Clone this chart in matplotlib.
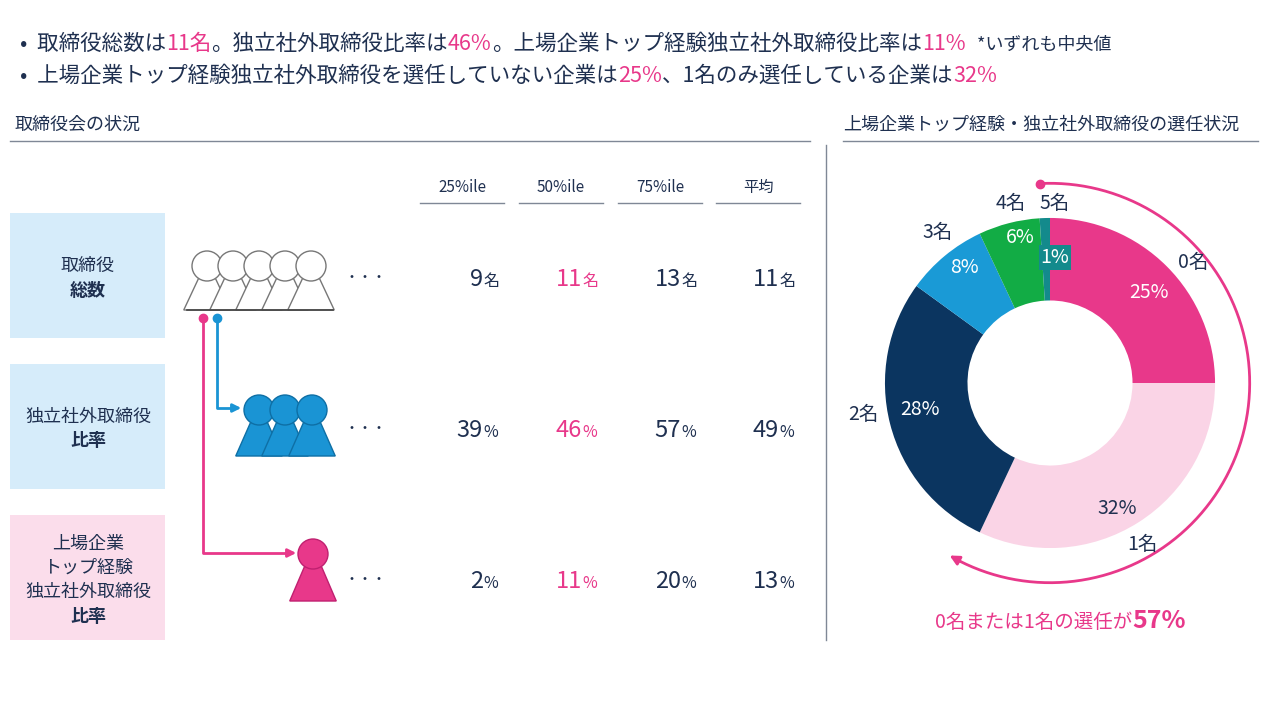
import numpy as np
import matplotlib.pyplot as plt
from matplotlib.patches import Rectangle, Circle, Polygon

plt.rcParams['font.family'] = 'Noto Sans CJK JP'

NAVY = '#1F3050'
PINK = '#E8388A'

# data
col_labels = ['25%ile', '50%ile', '75%ile', '平均']
row_labels = [('取締役', '総数'), ('独立社外取締役', '比率'), ('上場企業\nトップ経験\n独立社外取締役', '比率')]
row_values = [[9, 11, 13, 11], [39, 46, 57, 49], [2, 11, 20, 13]]
row_units = ['名', '%', '%']
donut_labels = ['0名', '1名', '2名', '3名', '4名', '5名']
donut_values = [25, 32, 28, 8, 6, 1]
donut_colors = ['#E8388A', '#FAD4E6', '#0B3560', '#1A9AD6', '#12AC45', '#138A8C']
donut_text_colors = ['white', NAVY, 'white', 'white', 'white', 'white']

fig = plt.figure(figsize=(12.8, 7.18), dpi=100)
ax = fig.add_axes([0, 0, 1, 1])
ax.set_xlim(0, 1280)
ax.set_ylim(718, 0)
ax.axis('off')
renderer = fig.canvas.get_renderer()


def rich(x, y, parts, size=15.5):
    for s, c, sz, wt in parts:
        t = ax.text(x, y, s, color=c, fontsize=sz or size, va='baseline', ha='left', fontweight=wt)
        x += t.get_window_extent(renderer).width


# headline bullets
rich(20, 50, [('•  取締役総数は', NAVY, 0, 'normal'), ('11名', PINK, 0, 'normal'),
              ('。独立社外取締役比率は', NAVY, 0, 'normal'), ('46%', PINK, 0, 'normal'),
              ('。上場企業トップ経験独立社外取締役比率は', NAVY, 0, 'normal'), ('11%', PINK, 0, 'normal'),
              ('   *いずれも中央値', NAVY, 13, 'normal')])
rich(20, 82, [('•  上場企業トップ経験独立社外取締役を選任していない企業は', NAVY, 0, 'normal'),
              ('25%', PINK, 0, 'normal'), ('、1名のみ選任している企業は', NAVY, 0, 'normal'),
              ('32%', PINK, 0, 'normal')])

# section headers
ax.text(15, 125, '取締役会の状況', fontsize=13, color=NAVY, va='center')
ax.plot([10, 810], [141, 141], color='#7F8896', lw=1)
ax.text(843, 125, '上場企業トップ経験・独立社外取締役の選任状況', fontsize=13, color=NAVY, va='center')
ax.plot([843, 1258], [141, 141], color='#7F8896', lw=1)
ax.plot([826, 826], [145, 640], color='#7F8896', lw=1)

# table
col_x = [462, 561, 660, 758]
for cx, lab in zip(col_x, col_labels):
    ax.text(cx, 187, lab, fontsize=11, color=NAVY, ha='center', va='center')
    ax.plot([cx - 42, cx + 42], [203, 203], color='#7F8896', lw=1)

row_y = [278, 429, 580]
box_colors = ['#D6ECFA', '#D6ECFA', '#FBDDEB']
for i, (y, (l1, l2)) in enumerate(zip(row_y, row_labels)):
    ax.add_patch(Rectangle((10, y - 65), 155, 125, color=box_colors[i], lw=0))
    lines = l1.split('\n')
    n = len(lines) + 1
    step = 24
    y0 = y - step * (n - 1) / 2
    for k, s in enumerate(lines):
        ax.text(88, y0 + k * step, s, fontsize=13, color=NAVY, ha='center', va='center')
    ax.text(88, y0 + len(lines) * step, l2, fontsize=13, color=NAVY,
            ha='center', va='center', fontweight='bold')
    ax.text(366, y, '・・・', fontsize=10, color=NAVY, ha='center', va='center')
    for j, (cx, v) in enumerate(zip(col_x, row_values[i])):
        c = PINK if j == 1 else NAVY
        ax.text(cx + 21, y + 8, str(v), fontsize=17, color=c, ha='right', va='baseline')
        ax.text(cx + 21, y + 8, row_units[i], fontsize=11.5, color=c, ha='left', va='baseline')


def person(x, yh, r, h, face, edge):
    ax.add_patch(Polygon([(x - r * 0.55, yh + r * 0.8), (x + r * 0.55, yh + r * 0.8),
                          (x + r * 1.55, yh + h), (x - r * 1.55, yh + h)],
                         closed=True, fc=face, ec=edge, lw=1))
    ax.add_patch(Circle((x, yh), r, fc=face, ec=edge, lw=1))


for x in [207, 233, 259, 285, 311]:
    person(x, 266, 15, 44, 'white', '#777777')
ax.plot([187, 333], [310, 310], color='#444444', lw=1.2)
for x in [259, 285, 312]:
    person(x, 410, 15, 46, '#1A94D4', '#0E6FA5')
person(313, 554, 15, 47, PINK, '#C02070')

# connectors
ax.plot([203, 203, 290], [318, 553, 553], color=PINK, lw=2)
ax.annotate('', xy=(299, 553), xytext=(285, 553),
            arrowprops=dict(arrowstyle='-|>', color=PINK, lw=2, mutation_scale=12))
ax.plot(203, 318, 'o', color=PINK, ms=6)
ax.plot([217, 217, 235], [318, 408, 408], color='#1A94D4', lw=2)
ax.annotate('', xy=(244, 408), xytext=(230, 408),
            arrowprops=dict(arrowstyle='-|>', color='#1A94D4', lw=2, mutation_scale=12))
ax.plot(217, 318, 'o', color='#1A94D4', ms=6)

# donut
pax = fig.add_axes([830 / 1280, (718 - 383 - 220) / 718, 440 / 1280, 440 / 718])
wedges, _ = pax.pie(donut_values, colors=donut_colors, startangle=90, counterclock=False,
                    radius=1, wedgeprops=dict(width=0.5, linewidth=0), frame=True)
pax.axis('off')
pax.set_aspect('equal')
pax.set_xlim(-1.333, 1.333)
pax.set_ylim(-1.333, 1.333)
pct_pos = [(0.6, 0.55), (0.41, -0.76), (-0.79, -0.16), (-0.52, 0.7), (-0.18, 0.88), (0.03, 0.76)]
label_pos = [(0.87, 0.73), (0.56, -0.98), (-1.13, -0.19), (-0.68, 0.91), (-0.24, 1.09), (0.03, 1.09)]
for i in range(len(wedges)):
    tx, ty = pct_pos[i]
    bbox = dict(boxstyle='square,pad=0.1', fc=donut_colors[5], ec='none') if i == 5 else None
    pax.text(tx, ty, f'{donut_values[i]}%', fontsize=14, color=donut_text_colors[i],
             ha='center', va='center', bbox=bbox)
    lx, ly = label_pos[i]
    pax.text(lx, ly, donut_labels[i], fontsize=14, color=NAVY, ha='center', va='center')

# arc arrow: 0名 + 1名
ang = np.deg2rad(np.linspace(93, -118, 200))
R = 1.21
pax.plot(R * np.cos(ang), R * np.sin(ang), color=PINK, lw=2)
pax.plot(R * np.cos(ang[0]), R * np.sin(ang[0]), 'o', color=PINK, ms=6)
a1, a2 = np.deg2rad(-116), np.deg2rad(-121)
pax.annotate('', xy=(R * np.cos(a2), R * np.sin(a2)), xytext=(R * np.cos(a1), R * np.sin(a1)),
             arrowprops=dict(arrowstyle='-|>', color=PINK, lw=2, mutation_scale=14))

share = donut_values[0] + donut_values[1]
rich(935, 628, [('0名または1名の選任が', PINK, 14, 'normal'), (f'{share}%', PINK, 18, 'bold')])

fig.savefig('out.png', dpi=100)
